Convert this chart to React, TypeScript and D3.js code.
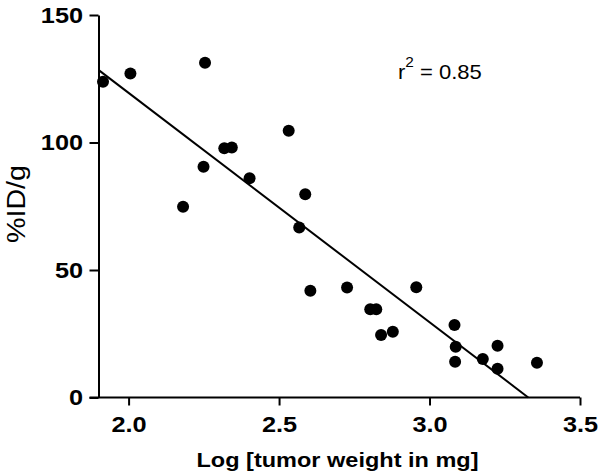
import React, { useEffect, useRef } from 'react'
import * as d3 from 'd3'

// log tumor weight (mg) vs %ID/g
const logWeight = [
  1.915, 2.006, 2.254, 2.532, 2.318, 2.343, 2.249, 2.402, 2.587, 2.567, 2.181,
  2.604, 2.726, 2.956, 2.803, 2.823, 2.839, 2.878, 3.083, 3.087, 3.085, 3.177,
  3.226, 3.226, 3.357
]
const idPerGram = [
  123.8, 127.1, 131.3, 104.6, 97.7, 98.0, 90.5, 86.0, 79.7, 66.7, 74.8,
  41.9, 43.1, 43.2, 34.6, 34.6, 24.5, 25.8, 28.4, 19.9, 14.0, 15.1,
  20.3, 11.3, 13.6
]

// regression line as drawn
const fitX = [1.903, 3.328]
const fitY = [128.2, 0]
const rSquared = '0.85'

const xTicks = [2.0, 2.5, 3.0, 3.5]
const yTicks = [0, 50, 100, 150]

const W = 601
const H = 475
const FONT = '"Liberation Sans", Arial, Helvetica, sans-serif'
const SX = 1.15 // the source image is a bit wide

export default function App () {
  const ref = useRef<SVGSVGElement>(null)

  useEffect(() => {
    const svg = d3.select(ref.current)
    svg.selectAll('*').remove()

    const x = d3.scaleLinear().domain([1.9, 3.5]).range([98.5, 580])
    const y = d3.scaleLinear().domain([0, 150]).range([397.5, 15])

    const g = svg.append('g')

    // regression line
    g.append('line')
      .attr('x1', x(fitX[0])).attr('y1', y(fitY[0]))
      .attr('x2', x(fitX[1])).attr('y2', y(fitY[1]))
      .attr('stroke', '#000')
      .attr('stroke-width', 2)

    // points
    g.selectAll('circle')
      .data(logWeight)
      .enter()
      .append('circle')
      .attr('cx', d => x(d))
      .attr('cy', (d, i) => y(idPerGram[i]))
      .attr('r', 6)
      .attr('fill', '#000')

    // y axis
    const yAxis = g.append('g')
      .attr('transform', `translate(${x(1.9)},0)`)
      .call(d3.axisLeft(y).tickValues(yTicks).tickSize(9).tickSizeOuter(0).tickFormat(d3.format('d')))
    yAxis.selectAll('text')
      .attr('x', -15.5 / SX)
      .attr('transform', `scale(${SX},1)`)

    // x axis
    const xAxis = g.append('g')
      .attr('transform', `translate(0,${y(0)})`)
      .call(d3.axisBottom(x).tickValues(xTicks).tickSize(8).tickSizeOuter(0).tickFormat(d3.format('.1f')))
    xAxis.selectAll('text')
      .attr('y', 19)
      .attr('transform', `scale(${SX},1)`)

    for (const a of [yAxis, xAxis]) {
      a.attr('font-family', FONT).attr('font-size', 22).attr('font-weight', 'bold')
      a.selectAll('text').attr('fill', '#000')
      a.selectAll('path, line').attr('stroke', '#000').attr('stroke-width', 2)
    }
    // x axis line runs out to the 0 tick
    xAxis.select('.domain').attr('d', `M${x(1.9) - 9},0H${x(3.5)}`)

    // axis titles
    g.append('text')
      .attr('transform', `translate(337.5,467) scale(1.12,1)`)
      .attr('text-anchor', 'middle')
      .attr('font-family', FONT)
      .attr('font-size', 21)
      .attr('font-weight', 'bold')
      .text('Log [tumor weight in mg]')

    g.append('text')
      .attr('transform', `translate(25,204) rotate(-90) scale(1,1.1)`)
      .attr('text-anchor', 'middle')
      .attr('font-family', FONT)
      .attr('font-size', 24)
      .attr('textLength', 78)
      .attr('lengthAdjust', 'spacingAndGlyphs')
      .text('%ID/g')

    // r squared annotation
    const r2 = g.append('text')
      .attr('transform', `translate(398,79) scale(1.1,1)`)
      .attr('font-family', FONT)
      .attr('font-size', 20)
    r2.append('tspan').text('r')
    r2.append('tspan').attr('font-size', 14).attr('dy', -12).text('2')
    r2.append('tspan').attr('dy', 12).text(` = ${rSquared}`)
  }, [])

  return (
    <svg
      ref={ref}
      width={W}
      height={H}
      style={{ position: 'absolute', left: 0, top: 0, background: '#fff' }}
    />
  )
}
